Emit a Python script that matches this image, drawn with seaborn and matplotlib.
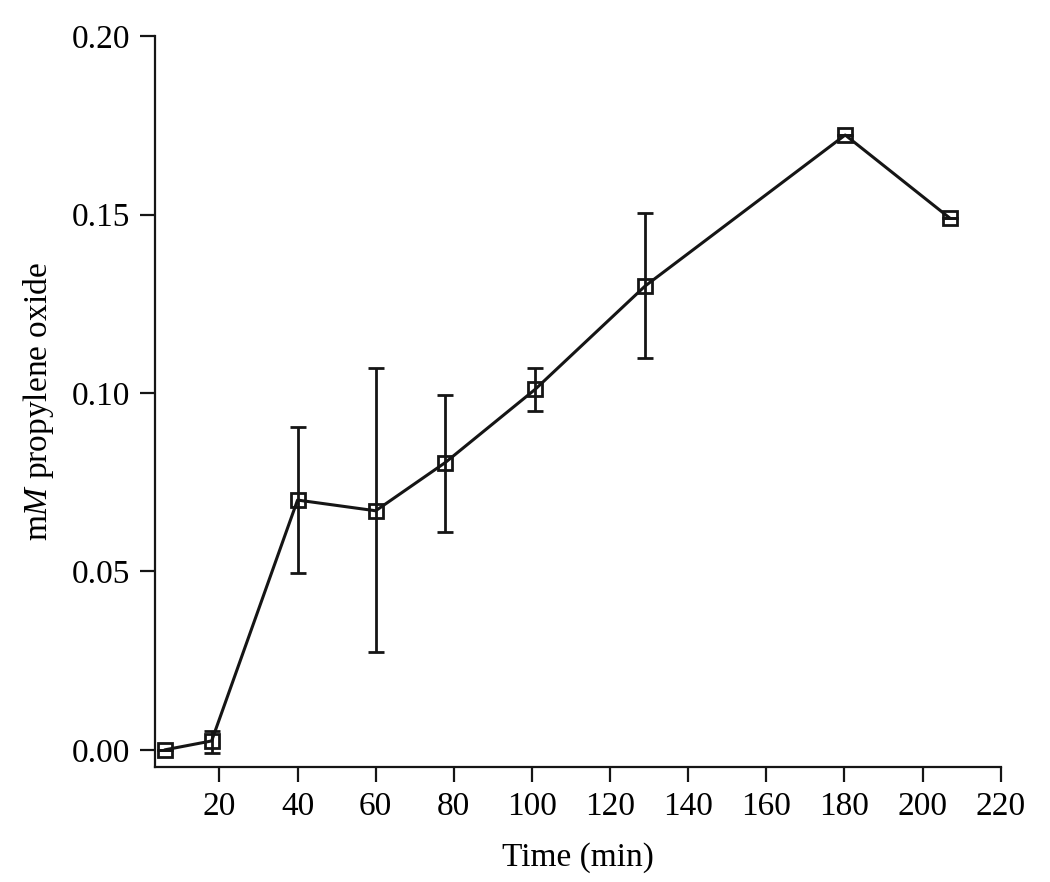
import matplotlib
matplotlib.use("Agg")
import matplotlib.pyplot as plt
import seaborn as sns
import numpy as np
import pandas as pd

time_min = [6, 18, 40, 60, 77.8, 100.8, 129, 180.2, 207]
po_mM = [0.0, 0.0025, 0.070, 0.067, 0.0805, 0.101, 0.130, 0.1723, 0.149]
err_lo = [0.0, 0.0033, 0.0205, 0.0395, 0.0195, 0.006, 0.0202, 0.0, 0.0]
err_hi = [0.0, 0.0028, 0.0205, 0.040, 0.019, 0.006, 0.0205, 0.0, 0.0]
x_ticks = [20, 40, 60, 80, 100, 120, 140, 160, 180, 200, 220]
y_ticks = [0.00, 0.05, 0.10, 0.15, 0.20]

sns.set_style("ticks")
plt.rcParams['font.family'] = ['Liberation Serif', 'DejaVu Serif']
plt.rcParams['mathtext.fontset'] = 'custom'
plt.rcParams['mathtext.rm'] = 'Liberation Serif'
plt.rcParams['mathtext.it'] = 'Liberation Serif:italic'

df = pd.DataFrame({"t": time_min, "y": po_mM})

ink = '#151515'
fig = plt.figure(figsize=(10.5, 8.82), dpi=100)
ax = fig.add_axes([0.1476, 0.1304, 0.8054, 0.8286])

ax.errorbar(time_min, po_mM, yerr=[err_lo, err_hi], fmt='none', ecolor=ink,
            elinewidth=2.0, capsize=5.5, capthick=2.0, zorder=2)
sns.lineplot(data=df, x="t", y="y", ax=ax, color=ink, linewidth=2.2,
             marker='s', markersize=10, markerfacecolor='none',
             markeredgecolor=ink, markeredgewidth=2.0, zorder=3)

ax.set_xlim(3.5, 220)
ax.set_ylim(-0.0048, 0.20)
ax.set_xticks(x_ticks)
ax.set_yticks(y_ticks)
ax.set_yticklabels([f"{v:.2f}" for v in y_ticks])
ax.set_xlabel("Time (min)", fontsize=24, labelpad=14, color='black')
ax.set_ylabel(r"m$\mathit{M}$ propylene oxide", fontsize=24, labelpad=11, color='black')
ax.tick_params(axis='both', direction='out', length=11, width=1.6, labelsize=24,
               colors=ink, labelcolor='black', pad=7)
for s in ['top', 'right']:
    ax.spines[s].set_visible(False)
for s in ['left', 'bottom']:
    ax.spines[s].set_linewidth(1.6)
    ax.spines[s].set_color(ink)

fig.savefig("out.png", dpi=100)
